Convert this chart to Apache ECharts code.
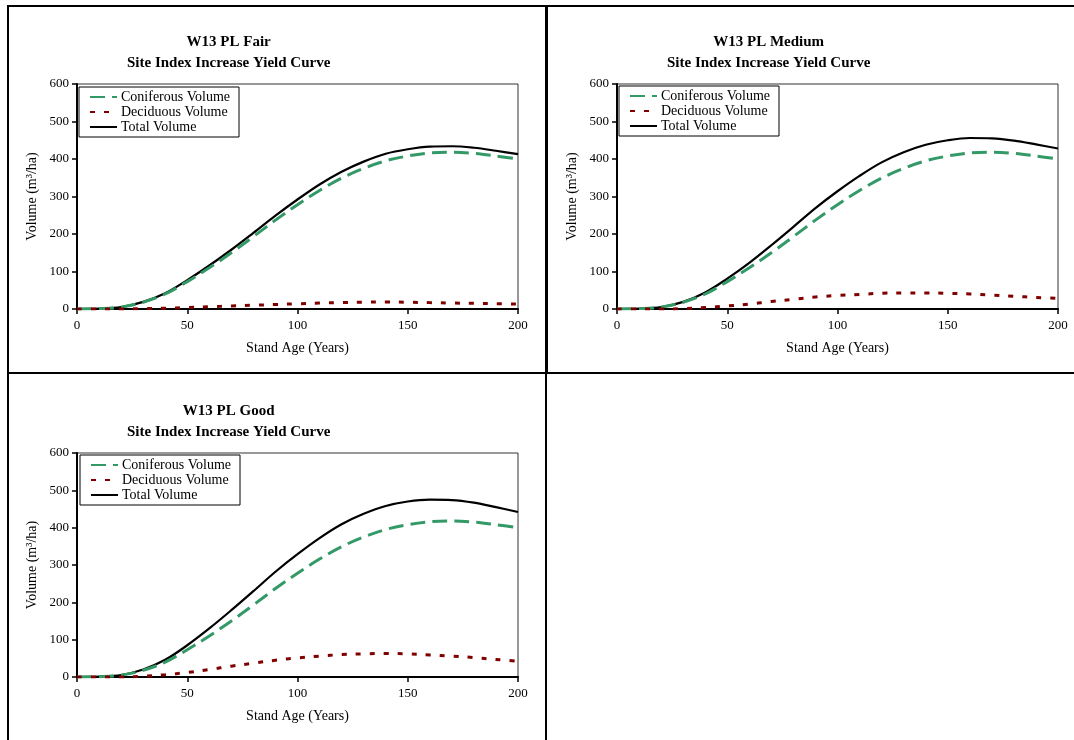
<!DOCTYPE html>
<html>
<head>
<meta charset="utf-8">
<script src="https://cdn.jsdelivr.net/npm/echarts@6/dist/echarts.min.js"></script>
<style>
html,body{margin:0;padding:0;background:#fff;}
#c{width:1074px;height:740px;}
</style>
</head>
<body>
<div id="c"></div>
<script>
var ages = [0,10,20,30,40,50,60,70,80,90,100,110,120,130,140,150,160,170,180,190,200];
var xTicks = [0,50,100,150,200];
var yTicks = [0,100,200,300,400,500,600];

var panelTitles = ['W13 PL Fair', 'W13 PL Medium', 'W13 PL Good'];
var subTitle = 'Site Index Increase Yield Curve';
var seriesNames = ['Coniferous Volume', 'Deciduous Volume', 'Total Volume'];

var fairConiferous   = [0,1,5,18,40,73,110,150,193,237,278,316,349,375,395,408,416,418,415,408,400];
var fairDeciduous    = [0,0,0,1,2,4,6,8,10,12,14,16,17,18,19,18,17,16,15,14,13];
var fairTotal        = [0,1,5,19,42,77,116,158,203,249,292,332,366,393,414,426,433,434,430,422,413];

var mediumConiferous = [0,1,5,18,40,73,110,150,193,237,278,316,349,375,395,408,416,418,415,408,400];
var mediumDeciduous  = [0,0,0,1,4,8,13,20,26,32,36,39,42,43,43,42,40,37,34,31,28];
var mediumTotal      = [0,1,5,19,44,81,123,170,219,269,314,355,391,418,438,450,456,455,449,439,428];

var goodConiferous   = [0,1,5,18,40,73,110,150,193,237,278,316,349,375,395,408,416,418,415,408,400];
var goodDeciduous    = [0,0,0,2,6,12,20,29,37,45,51,56,60,62,63,62,59,56,52,47,42];
var goodTotal        = [0,1,5,20,46,85,130,179,230,282,329,372,409,437,458,470,475,474,467,455,442];

var FONT = '"Liberation Serif", "Times New Roman", serif';
var panelData = [
  [fairConiferous, fairDeciduous, fairTotal],
  [mediumConiferous, mediumDeciduous, mediumTotal],
  [goodConiferous, goodDeciduous, goodTotal]
];
var grids = [
  {left: 77, top: 84, width: 441, height: 225},
  {left: 617, top: 84, width: 441, height: 225},
  {left: 77, top: 453, width: 441, height: 224}
];
var titleX = [277, 817, 277];
var titleY = [32, 32, 401];
var legendPos = [{left: 79, top: 87}, {left: 619, top: 86}, {left: 80, top: 455}];

function pairs(ys){ return ages.map(function(a,i){ return [a, ys[i]]; }); }

var styles = [
  {color: '#339966', width: 3, type: [15, 7]},
  {color: '#800000', width: 3, type: [5, 9]},
  {color: '#000000', width: 2.2, type: 'solid'}
];

var option = {
  backgroundColor: '#ffffff',
  animation: false,
  grid: [], xAxis: [], yAxis: [], series: [], legend: [], graphic: []
};

for (var p = 0; p < 3; p++) {
  var g = grids[p];
  option.grid.push({left: g.left, top: g.top, width: g.width, height: g.height,
    show: true, borderColor: '#333', borderWidth: 1, backgroundColor: 'transparent', containLabel: false});
  option.xAxis.push({
    type: 'value', gridIndex: p, min: 0, max: 200, interval: 50,
    name: 'Stand Age (Years)', nameLocation: 'middle', nameGap: 32,
    nameTextStyle: {fontFamily: FONT, fontSize: 14, color: '#000'},
    axisLine: {show: true, onZero: false, lineStyle: {color: '#000', width: 2}},
    axisTick: {show: true, inside: false, length: 5, lineStyle: {color: '#000', width: 1.5}},
    axisLabel: {fontFamily: FONT, fontSize: 13, color: '#000', margin: 10},
    splitLine: {show: false}
  });
  option.yAxis.push({
    type: 'value', gridIndex: p, min: 0, max: 600, interval: 100,
    name: 'Volume (m³/ha)', nameLocation: 'middle', nameGap: 38, nameRotate: 90,
    nameTextStyle: {fontFamily: FONT, fontSize: 14, color: '#000'},
    axisLine: {show: true, onZero: false, lineStyle: {color: '#000', width: 2}},
    axisTick: {show: true, inside: false, length: 5, lineStyle: {color: '#000', width: 1.5}},
    axisLabel: {fontFamily: FONT, fontSize: 13, color: '#000', margin: 8},
    splitLine: {show: false}
  });
  for (var s = 0; s < 3; s++) {
    option.series.push({
      type: 'line', name: seriesNames[s], xAxisIndex: p, yAxisIndex: p,
      data: pairs(panelData[p][s]), showSymbol: false, symbol: 'none',
      smooth: 0.35, z: 2 + (s === 2 ? 0 : 1),
      lineStyle: {color: styles[s].color, width: styles[s].width, type: styles[s].type},
      itemStyle: {color: styles[s].color}
    });
  }
  option.legend.push({
    data: seriesNames, orient: 'vertical', left: legendPos[p].left, top: legendPos[p].top,
    backgroundColor: '#fff', borderColor: '#000', borderWidth: 1,
    padding: [3, 9, 3, 10], itemGap: 1, itemWidth: 27, itemHeight: 14,
    itemStyle: {opacity: 0, color: 'rgba(0,0,0,0)', borderWidth: 0},
    textStyle: {fontFamily: FONT, fontSize: 14, color: '#000', padding: [0, 0, 0, -1]},
    selectedMode: false
  });
  option.graphic.push({
    type: 'text', left: titleX[p] - 150, top: titleY[p],
    style: {text: panelTitles[p] + '\n' + subTitle, x: 150, textAlign: 'center',
      font: 'bold 15px ' + FONT, lineHeight: 21, fill: '#000'}
  });
}

// table borders
var borders = [
  [7, 5, 1067, 2],     // top
  [7, 5, 2, 735],      // left
  [545, 5, 3, 369],    // middle upper
  [545, 372, 2, 368],  // middle lower
  [7, 372, 1067, 2]    // middle horizontal
];
borders.forEach(function(b){
  option.graphic.push({type: 'rect', shape: {x: b[0], y: b[1], width: b[2], height: b[3]},
    style: {fill: '#000'}, z: 10});
});

var chart = echarts.init(document.getElementById('c'));
chart.setOption(option);
</script>
</body>
</html>
